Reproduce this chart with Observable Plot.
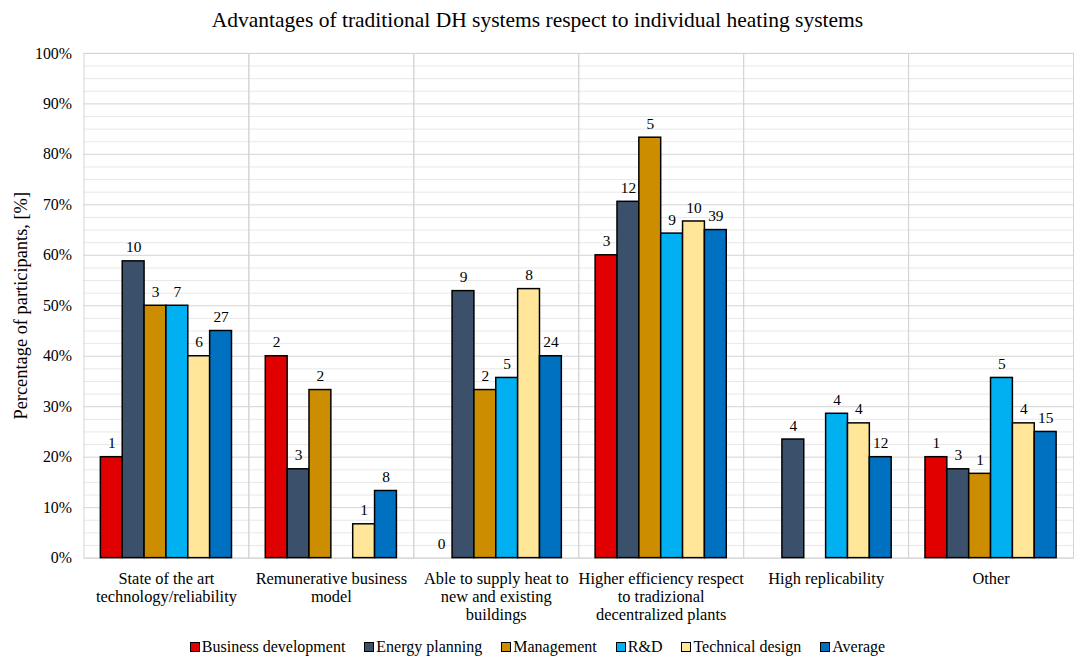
<!DOCTYPE html>
<html>
<head>
<meta charset="utf-8">
<script src="https://cdn.jsdelivr.net/npm/d3@7"></script>
<script src="https://cdn.jsdelivr.net/npm/@observablehq/plot@0.6"></script>
<style>
  html, body { margin: 0; padding: 0; background: #fff; overflow: hidden; }
  body { width: 1075px; height: 661px; position: relative; font-family: "Liberation Serif", "Times New Roman", serif; color: #000; }
  #title { height: 40px; line-height: 40px; text-align: center; font-size: 21.5px; width: 1075px; }
  #chart { position: absolute; top: 40px; left: 0; }
  #legend { position: absolute; top: 638px; left: 0; width: 1075px; display: flex; justify-content: center; gap: 19px; font-size: 16px; }
  .item { display: flex; align-items: center; }
  .sw { width: 8px; height: 8px; border: 1px solid #000; margin-right: 2px; }
</style>
</head>
<body>
<div id="title">Advantages of traditional DH systems respect to individual heating systems</div>
<div id="chart"></div>
<div id="legend"></div>
<script>
// Categories (x groups)
const categories = [
  "State of the art technology/reliability",
  "Remunerative business model",
  "Able to supply heat to new and existing buildings",
  "Higher efficiency respect to tradizional decentralized plants",
  "High replicability",
  "Other"
];
const categoryLabels = [
  "State of the art\ntechnology/reliability",
  "Remunerative business\nmodel",
  "Able to supply heat to\nnew and existing\nbuildings",
  "Higher efficiency respect\nto tradizional\ndecentralized plants",
  "High replicability",
  "Other"
];
const series = ["Business development", "Energy planning", "Management", "R&D", "Technical design", "Average"];
const seriesColors = ["#E00000", "#3A506B", "#CC8E00", "#00B0F0", "#FFE699", "#0070C0"];

// Percentages (%) per category, per series
const businessDevelopment = [20, 40, 0, 60, null, 20];
const energyPlanning      = [58.8, 17.6, 52.9, 70.6, 23.5, 17.6];
const management          = [50, 33.3, 33.3, 83.3, null, 16.7];
const rAndD               = [50, null, 35.7, 64.3, 28.6, 35.7];
const technicalDesign     = [40, 6.7, 53.3, 66.7, 26.7, 26.7];
const average             = [45, 13.3, 40, 65, 20, 25];

// Counts (bar labels)
const businessDevelopmentN = [1, 2, 0, 3, null, 1];
const energyPlanningN      = [10, 3, 9, 12, 4, 3];
const managementN          = [3, 2, 2, 5, null, 1];
const rAndDN               = [7, null, 5, 9, 4, 5];
const technicalDesignN     = [6, 1, 8, 10, 4, 4];
const averageN             = [27, 8, 24, 39, 12, 15];

const yTicks = [0, 10, 20, 30, 40, 50, 60, 70, 80, 90, 100];

const valueArrays = [businessDevelopment, energyPlanning, management, rAndD, technicalDesign, average];
const countArrays = [businessDevelopmentN, energyPlanningN, managementN, rAndDN, technicalDesignN, averageN];

const rows = [];
categories.forEach((c, i) => {
  series.forEach((s, j) => {
    const v = valueArrays[j][i];
    if (v != null) rows.push({category: c, series: s, value: v, count: countArrays[j][i]});
  });
});

const labelMap = new Map(categories.map((c, i) => [c, categoryLabels[i]]));
const minorTicks = d3.range(2.5, 100, 2.5).filter(d => d % 10 !== 0);

const chart = Plot.plot({
  width: 1082,
  height: 595,
  marginLeft: 82,
  marginRight: 0,
  marginTop: 13,
  marginBottom: 74,
  style: {fontFamily: "Liberation Serif, Times New Roman, serif", fontSize: "15px", color: "#000", background: "transparent"},
  fx: {domain: categories, padding: 0, label: null},
  x: {domain: series, paddingInner: 0, paddingOuter: 0.72, axis: null},
  y: {domain: [0, 100], label: null},
  color: {domain: series, range: seriesColors},
  marks: [
    Plot.ruleY(minorTicks, {stroke: "#e8e8e8", strokeWidth: 1}),
    Plot.ruleY(yTicks, {stroke: "#d4d4d4", strokeWidth: 1}),
    Plot.frame({stroke: "#d4d4d4", strokeWidth: 1}),
    Plot.barY(rows, {fx: "category", x: "series", y: "value", fill: "series", stroke: "#000", strokeWidth: 1.5}),
    Plot.text(rows, {fx: "category", x: "series", y: "value", text: "count", dy: -14, fontSize: 15.5, fill: "#000"}),
    Plot.axisY({ticks: yTicks, tickFormat: d => d + "%", tickSize: 0, tickPadding: 12, fontSize: 16, label: "Percentage of participants, [%]", labelAnchor: "center", labelOffset: 70, labelArrow: "none"}),
    Plot.axisFx({anchor: "bottom", tickSize: 0, tickPadding: 13, fontSize: 16.5, lineHeight: 1.1, lineAnchor: "top", tickFormat: d => labelMap.get(d), label: null})
  ]
});
document.getElementById("chart").appendChild(chart);

// y-axis label font size
chart.querySelectorAll("g[aria-label='y-axis label']").forEach(el => {
  el.setAttribute("font-size", 18.5);
  el.querySelectorAll("text").forEach(t => t.setAttribute("font-size", 18.5));
});

const legend = document.getElementById("legend");
series.forEach((s, i) => {
  const it = document.createElement("div");
  it.className = "item";
  const sw = document.createElement("span");
  sw.className = "sw";
  sw.style.background = seriesColors[i];
  const t = document.createElement("span");
  t.textContent = s;
  it.appendChild(sw); it.appendChild(t);
  legend.appendChild(it);
});
</script>
</body>
</html>
